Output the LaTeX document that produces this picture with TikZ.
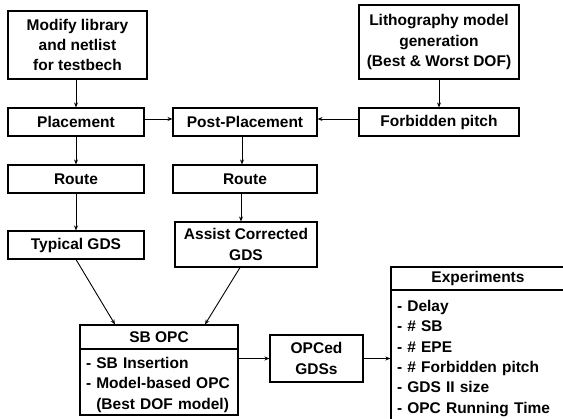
\documentclass[tikz,border=0pt]{standalone}
\usepackage{fontspec}
\setmainfont{Liberation Sans}
\usetikzlibrary{arrows.meta}
\begin{document}
\begin{tikzpicture}[x=1pt,y=-1pt,
  box/.style={draw, line width=1.1pt, rectangle, inner sep=2pt, align=center,
    font=\bfseries\fontsize{15.5}{20.3}\selectfont},
  listbox/.style={box, align=left, inner xsep=6pt},
  arr/.style={line width=0.9pt, -{Stealth[length=5pt,width=4pt]}}]
\clip (0,0) rectangle (563,419);
\node[box, minimum width=139pt, minimum height=68pt] (mod) at (77.5,45) {Modify library\\and netlist\\for testbech};
\node[box, minimum width=160pt, minimum height=74pt] (litho) at (439,42) {Lithography model\\generation\\(Best \& Worst DOF)};
\node[box, minimum width=136pt, minimum height=28pt] (place) at (76,122) {Placement};
\node[box, minimum width=144pt, minimum height=28pt] (post) at (245,122) {Post-Placement};
\node[box, minimum width=160pt, minimum height=28pt] (forb) at (439,122) {Forbidden pitch};
\node[box, minimum width=136pt, minimum height=28pt] (route1) at (76,179) {Route};
\node[box, minimum width=144pt, minimum height=28pt] (route2) at (245,179) {Route};
\node[box, minimum width=136pt, minimum height=28pt] (typ) at (76,245) {Typical GDS};
\node[box, minimum width=142pt, minimum height=45pt] (acg) at (246,244.5) {Assist Corrected\\GDS};
\node[box, minimum width=158pt, minimum height=24pt] (sbh) at (159,337) {SB OPC};
\node[listbox, text width=146pt, minimum height=66pt] (sbb) at (159,382) {\rule{0pt}{17pt}- SB Insertion\\- Model-based OPC\\\phantom{- }(Best DOF model)};
\node[box, minimum width=93pt, minimum height=47pt] (opced) at (316.5,358.5) {OPCed\\GDSs};
\node[box, minimum width=184pt, minimum height=23pt] (exph) at (483,278.5) {\hspace*{-10pt}Experiments};
\node[listbox, text width=172pt, minimum height=132pt] (expb) at (483,356) {\rule{0pt}{16pt}- Delay\\- \# SB\\- \# EPE\\- \# Forbidden pitch\\- GDS II size\\- OPC Running Time};
\draw[arr] (mod.south -| place.north) -- (place.north);
\draw[arr] (litho.south) -- (forb.north);
\draw[arr] ([yshift=3pt]place.east) -- ([yshift=3pt]post.west);
\draw[arr] ([yshift=3pt]forb.west) -- ([yshift=3pt]post.east);
\draw[arr] (place.south) -- (route1.north);
\draw[arr] ([xshift=-3pt]post.south) -- ([xshift=-3pt]route2.north);
\draw[arr] (route1.south) -- (typ.north);
\draw[arr] ([xshift=-4pt]route2.south) -- ([xshift=-4pt]route2.south |- acg.north);
\draw[arr] (typ.south) -- ([xshift=-44pt]sbh.north);
\draw[arr] ([xshift=-6pt]acg.south) -- ([xshift=46pt]sbh.north);
\draw[arr] (sbb.east |- opced.west) -- (opced.west);
\draw[arr] (opced.east) -- (opced.east -| expb.west);
\end{tikzpicture}
\end{document}
